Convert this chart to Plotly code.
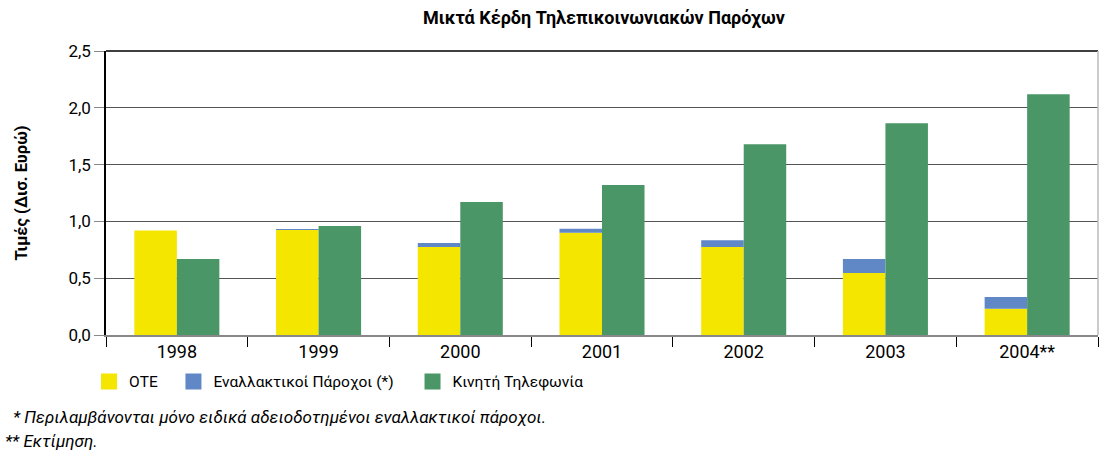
import plotly.graph_objects as go

years = ["1998", "1999", "2000", "2001", "2002", "2003", "2004**"]
ote = [0.92, 0.925, 0.775, 0.9, 0.775, 0.545, 0.23]
alt = [0.0, 0.008, 0.035, 0.035, 0.06, 0.125, 0.105]
mobile = [0.67, 0.96, 1.17, 1.32, 1.68, 1.865, 2.12]

title = "Μικτά Κέρδη Τηλεπικοινωνιακών Παρόχων"
ytitle = "Τιμές (Δισ. Ευρώ)"
names = ["ΟΤΕ", "Εναλλακτικοί Πάροχοι (*)", "Κινητή Τηλεφωνία"]
colors = ["#F5E600", "#6088C6", "#4A9666"]
notes = ["* Περιλαμβάνονται μόνο ειδικά αδειοδοτημένοι εναλλακτικοί πάροχοι.", "** Εκτίμηση."]

FONT = "Roboto"
fig = go.Figure()
fig.add_trace(go.Bar(x=years, y=ote, name=names[0], offsetgroup="a", showlegend=False,
                     marker=dict(color=colors[0], line=dict(width=0))))
fig.add_trace(go.Bar(x=years, y=alt, base=ote, name=names[1], offsetgroup="a", showlegend=False,
                     marker=dict(color=colors[1], line=dict(width=0))))
fig.add_trace(go.Bar(x=years, y=mobile, name=names[2], offsetgroup="b", showlegend=False,
                     marker=dict(color=colors[2], line=dict(width=0))))

# legend entries (one legend per item for exact placement)
legend_ids = ["legend", "legend2", "legend3"]
legend_x = [-0.0171, 0.068, 0.309]
for nm, col, lg in zip(names, colors, legend_ids):
    fig.add_trace(go.Scatter(x=[None], y=[None], mode="markers", name=nm, legend=lg,
                             marker=dict(symbol="square", size=16, color=col,
                                         line=dict(width=0))))

leg_common = dict(orientation="h", xanchor="left", y=-0.165, yanchor="middle",
                  font=dict(family=FONT, size=15.5), itemwidth=30,
                  bgcolor="rgba(0,0,0,0)")

fig.update_layout(
    width=1104, height=454,
    margin=dict(l=106, r=6, t=51, b=119),
    paper_bgcolor="white", plot_bgcolor="white",
    barmode="group", bargap=0.4, bargroupgap=0,
    separators=",.",
    font=dict(family=FONT, size=14, color="black"),
    title=dict(text="<b>" + title + "</b>", x=0.547, xanchor="center", y=0.962,
               yanchor="middle", font=dict(family=FONT, size=18)),
    showlegend=True,
    legend=dict(x=legend_x[0], **leg_common),
    legend2=dict(x=legend_x[1], **leg_common),
    legend3=dict(x=legend_x[2], **leg_common),
    xaxis=dict(showline=True, linecolor="#888", linewidth=1.5, ticks="outside",
               ticklen=10, tickcolor="black", tickson="boundaries",
               tickfont=dict(size=18), showgrid=False, automargin=False),
    yaxis=dict(range=[0, 2.5], dtick=0.5, tickformat=".1f", showline=True,
               linecolor="black", linewidth=1.5, ticks="outside", ticklen=10,
               tickcolor="#888", gridcolor="#555", gridwidth=1,
               tickfont=dict(size=17), automargin=False,
               title=dict(text="<b>" + ytitle + "</b>", standoff=37,
                          font=dict(family=FONT, size=16.5)),
               zeroline=False),
)
# top border and right border
fig.add_shape(type="line", xref="paper", yref="paper", x0=0, x1=1, y0=1, y1=1,
              line=dict(color="black", width=1.5))
fig.add_shape(type="line", xref="paper", yref="paper", x0=1, x1=1, y0=0, y1=1,
              line=dict(color="#bbb", width=1.5))

fig.add_annotation(text="<i>" + notes[0] + "</i>", xref="paper", yref="paper",
                   x=-0.096, y=-0.289, xanchor="left", yanchor="middle",
                   showarrow=False, font=dict(family=FONT, size=17))
fig.add_annotation(text="<i>" + notes[1] + "</i>", xref="paper", yref="paper",
                   x=-0.104, y=-0.373, xanchor="left", yanchor="middle",
                   showarrow=False, font=dict(family=FONT, size=17))

fig.write_html("out.html", config={"displayModeBar": False},
               post_script="document.body.style.margin='0px';")
